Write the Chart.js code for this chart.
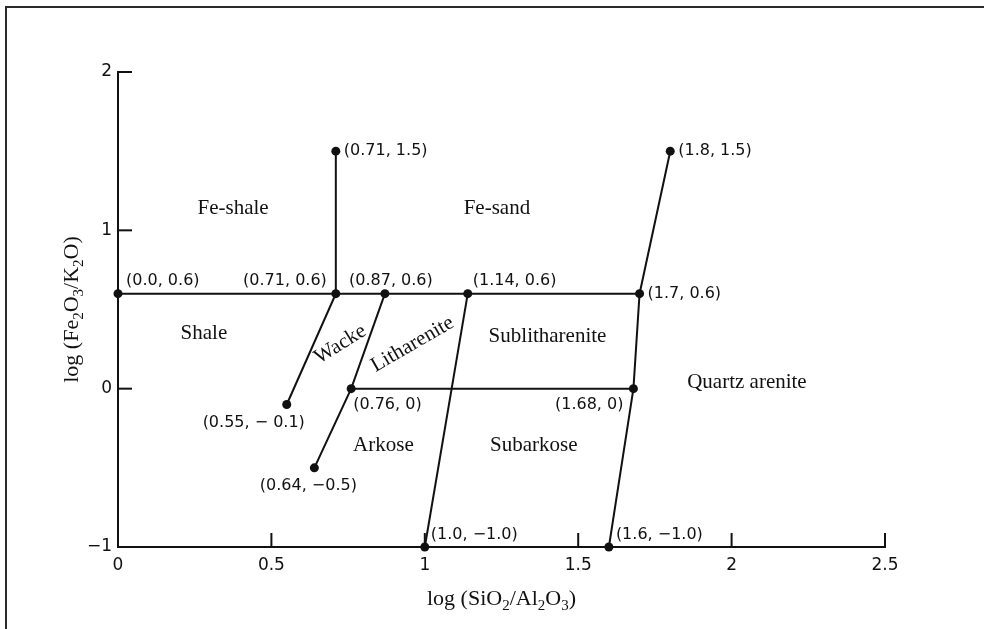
<!DOCTYPE html>
<html>
<head>
<meta charset="utf-8">
<script src="https://cdn.jsdelivr.net/npm/chart.js@4.4.1/dist/chart.umd.min.js"></script>
<style>
  html, body { margin: 0; padding: 0; background: #fff; overflow: hidden; }
  #wrap { position: relative; width: 984px; height: 629px; overflow: hidden; }
  #frame { position: absolute; left: 5px; top: 6px; width: 1100px; height: 800px; border: 2px solid #2a2a2a; }
  #chart { position: absolute; left: 0; top: 0; }
</style>
</head>
<body>
<div id="wrap">
  <div id="frame"></div>
  <canvas id="chart" width="984" height="629"></canvas>
</div>
<script>
/* ── Diagram data: boundary points (values as labelled in the figure) ── */
var pointX = [0.0, 0.71, 0.71, 0.87, 1.14, 1.7, 1.8, 0.55, 0.76, 0.64, 1.68, 1.0, 1.6];
var pointY = [0.6, 0.6, 1.5, 0.6, 0.6, 0.6, 1.5, -0.1, 0, -0.5, 0, -1.0, -1.0];
var pointText = ['(0.0, 0.6)', '(0.71, 0.6)', '(0.71, 1.5)', '(0.87, 0.6)', '(1.14, 0.6)',
                 '(1.7, 0.6)', '(1.8, 1.5)', '(0.55, \u2212 0.1)', '(0.76, 0)', '(0.64, \u22120.5)',
                 '(1.68, 0)', '(1.0, \u22121.0)', '(1.6, \u22121.0)'];

// boundary lines, as chains of point indices
var boundaries = [
    [0, 1, 3, 4, 5],
    [2, 1, 7],
    [3, 8, 9],
    [4, 11],
    [6, 5, 10, 12],
    [8, 10]
];

// field names and where they sit (data units)
var regionNames = ['Fe-shale', 'Fe-sand', 'Shale', 'Wacke', 'Litharenite', 'Sublitharenite',
                   'Quartz arenite', 'Arkose', 'Subarkose'];
var regionX = [0.375, 1.235, 0.28, 0.725, 0.96, 1.40, 2.05, 0.865, 1.355];
var regionY = [1.14, 1.14, 0.35, 0.28, 0.28, 0.33, 0.04, -0.36, -0.36];

var xTicks = { min: 0, max: 2.5, step: 0.5 };
var yTicks = { min: -1, max: 2, step: 1 };

var xTitle = [['log (SiO', 0], ['2', 1], ['/Al', 0], ['2', 1], ['O', 0], ['3', 1], [')', 0]];
var yTitle = [['log (Fe', 0], ['2', 1], ['O', 0], ['3', 1], ['/K', 0], ['2', 1], ['O)', 0]];

/* ── Styling ── */
var INK = '#111';
var SERIF = '"Liberation Serif", "DejaVu Serif", serif';
var SANS = '"DejaVu Sans", sans-serif';

// where each point label sits relative to its dot
var LABEL_POS = [
    { align: 'left',   dx: 8,   dy: -13 },
    { align: 'right',  dx: -9,  dy: -13 },
    { align: 'left',   dx: 8,   dy: 0 },
    { align: 'center', dx: 6,   dy: -13 },
    { align: 'left',   dx: 5,   dy: -13 },
    { align: 'left',   dx: 8,   dy: 0 },
    { align: 'left',   dx: 8,   dy: 0 },
    { align: 'center', dx: -33, dy: 18 },
    { align: 'left',   dx: 2,   dy: 16 },
    { align: 'center', dx: -6,  dy: 18 },
    { align: 'right',  dx: -10, dy: 16 },
    { align: 'left',   dx: 6,   dy: -12 },
    { align: 'left',   dx: 7,   dy: -12 }
];
var ROTATED = { 'Wacke': -32, 'Litharenite': -30 };

function fmtTick(v) {
    if (v < 0) return '\u2212' + Math.abs(v);
    return String(v);
}

// draw a run of text with subscript pieces, starting at (0,0) of current transform
function drawSubText(ctx, parts, size, alignCenter) {
    var subSize = Math.round(size * 0.66);
    var total = 0;
    parts.forEach(function (p) {
        ctx.font = (p[1] ? subSize : size) + 'px ' + SERIF;
        total += ctx.measureText(p[0]).width;
    });
    var x = alignCenter ? -total / 2 : 0;
    ctx.textAlign = 'left';
    ctx.textBaseline = 'alphabetic';
    parts.forEach(function (p) {
        ctx.font = (p[1] ? subSize : size) + 'px ' + SERIF;
        ctx.fillText(p[0], x, p[1] ? 5 : 0);
        x += ctx.measureText(p[0]).width;
    });
}

var annotations = {
    id: 'annotations',
    afterDatasetsDraw: function (chart) {
        var ctx = chart.ctx;
        var xs = chart.scales.x, ys = chart.scales.y;
        var area = chart.chartArea;
        ctx.save();

        // inward tick marks
        ctx.strokeStyle = INK;
        ctx.lineWidth = 2;
        xs.ticks.forEach(function (t) {
            var px = xs.getPixelForValue(t.value);
            ctx.beginPath();
            ctx.moveTo(px, area.bottom);
            ctx.lineTo(px, area.bottom - 14);
            ctx.stroke();
        });
        ys.ticks.forEach(function (t) {
            var py = ys.getPixelForValue(t.value);
            ctx.beginPath();
            ctx.moveTo(area.left, py);
            ctx.lineTo(area.left + 14, py);
            ctx.stroke();
        });

        // point labels
        ctx.fillStyle = INK;
        ctx.font = '16px ' + SANS;
        ctx.textBaseline = 'middle';
        pointText.forEach(function (txt, i) {
            var pos = LABEL_POS[i];
            ctx.textAlign = pos.align;
            ctx.fillText(txt,
                xs.getPixelForValue(pointX[i]) + pos.dx,
                ys.getPixelForValue(pointY[i]) + pos.dy);
        });

        // field names
        ctx.font = '21px ' + SERIF;
        ctx.textAlign = 'center';
        regionNames.forEach(function (name, i) {
            var px = xs.getPixelForValue(regionX[i]);
            var py = ys.getPixelForValue(regionY[i]);
            ctx.save();
            ctx.translate(px, py);
            if (ROTATED[name]) ctx.rotate(ROTATED[name] * Math.PI / 180);
            ctx.fillText(name, 0, 0);
            ctx.restore();
        });

        // axis titles
        ctx.save();
        ctx.translate((area.left + area.right) / 2, area.bottom + 58);
        drawSubText(ctx, xTitle, 22, true);
        ctx.restore();

        ctx.save();
        ctx.translate(78, (area.top + area.bottom) / 2);
        ctx.rotate(-Math.PI / 2);
        drawSubText(ctx, yTitle, 22, true);
        ctx.restore();

        ctx.restore();
    }
};

/* ── Build datasets from the arrays ── */
var datasets = boundaries.map(function (chain) {
    return {
        data: chain.map(function (i) { return { x: pointX[i], y: pointY[i] }; }),
        showLine: true,
        borderColor: INK,
        borderWidth: 2,
        pointRadius: 0,
        tension: 0,
        clip: false
    };
});
datasets.push({
    data: pointX.map(function (x, i) { return { x: x, y: pointY[i] }; }),
    showLine: false,
    pointRadius: 4.5,
    pointBackgroundColor: INK,
    pointBorderColor: INK,
    pointBorderWidth: 0,
    clip: false
});

new Chart(document.getElementById('chart').getContext('2d'), {
    type: 'scatter',
    data: { datasets: datasets },
    options: {
        responsive: false,
        animation: false,
        devicePixelRatio: 1,
        layout: { padding: { top: 72, right: 99, left: 0, bottom: 0 } },
        plugins: { legend: { display: false }, tooltip: { enabled: false } },
        scales: {
            x: {
                type: 'linear',
                min: xTicks.min, max: xTicks.max,
                grid: { display: false, drawTicks: false },
                border: { display: true, color: INK, width: 2 },
                ticks: { stepSize: xTicks.step, padding: 8, color: INK,
                         font: { family: SANS, size: 17 }, callback: fmtTick },
                afterFit: function (s) { s.height = 82; }
            },
            y: {
                type: 'linear',
                min: yTicks.min, max: yTicks.max,
                grid: { display: false, drawTicks: false },
                border: { display: true, color: INK, width: 2 },
                ticks: { stepSize: yTicks.step, padding: 6, color: INK,
                         font: { family: SANS, size: 17 }, callback: fmtTick },
                afterFit: function (s) { s.width = 118; }
            }
        }
    },
    plugins: [annotations]
});
</script>
</body>
</html>
